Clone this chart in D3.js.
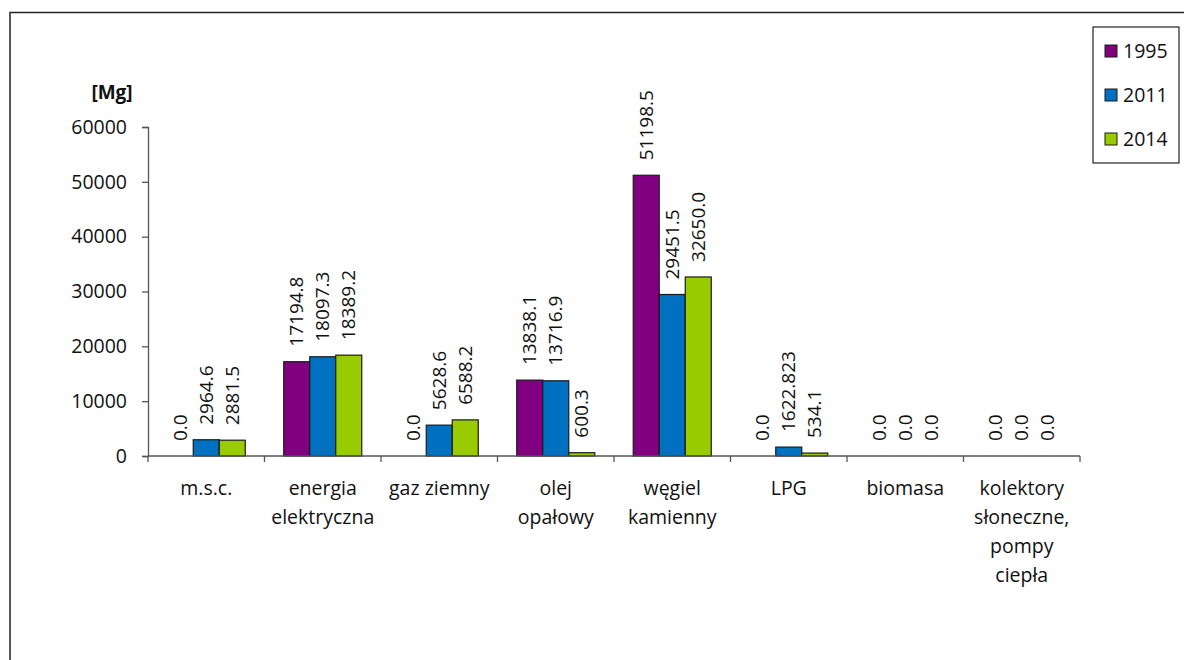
<!DOCTYPE html>
<html>
<head>
<meta charset="utf-8">
<script src="https://cdn.jsdelivr.net/npm/d3@7"></script>
<style>
  html, body { margin: 0; padding: 0; background: #fff; }
  svg { display: block; font-family: "Open Sans", sans-serif; }
</style>
</head>
<body>
<svg id="chart" width="1184" height="660"></svg>
<script>
// Fuel consumption by energy source, three survey years
const categories = [
  "m.s.c.",
  "energia\nelektryczna",
  "gaz ziemny",
  "olej\nopałowy",
  "węgiel\nkamienny",
  "LPG",
  "biomasa",
  "kolektory\nsłoneczne,\npompy\nciepła"
];
const seriesNames = ["1995", "2011", "2014"];
const values1995 = [0, 17194.8, 0, 13838.1, 51198.5, 0, 0, 0];
const values2011 = [2964.6, 18097.3, 5628.6, 13716.9, 29451.5, 1622.823, 0, 0];
const values2014 = [2881.5, 18389.2, 6588.2, 600.3, 32650.0, 534.1, 0, 0];
const yTicks = [0, 10000, 20000, 30000, 40000, 50000, 60000];
const unitLabel = "[Mg]";

const colors = { "1995": "#800080", "2011": "#0070C0", "2014": "#99CC00" };
const seriesValues = { "1995": values1995, "2011": values2011, "2014": values2014 };
const textColor = "#111";

const svg = d3.select("#chart");

// outer frame
svg.append("rect")
  .attr("x", 10).attr("y", 12.5)
  .attr("width", 1200).attr("height", 700)
  .attr("fill", "none").attr("stroke", "#222").attr("stroke-width", 1.5);

const plot = { left: 148, right: 1080, top: 127, bottom: 456 };

const x = d3.scaleBand()
  .domain(categories)
  .range([plot.left, plot.right])
  .paddingInner(0).paddingOuter(0);

const xs = d3.scaleBand()
  .domain(seriesNames)
  .range([0, x.bandwidth()])
  .paddingInner(0).paddingOuter(0.74);

const y = d3.scaleLinear()
  .domain([0, 60000])
  .range([plot.bottom, plot.top]);

// y axis
const yAxis = svg.append("g")
  .attr("transform", `translate(${plot.left},0)`)
  .call(d3.axisLeft(y).tickValues(yTicks).tickFormat(d3.format("d")).tickSize(6).tickPadding(15));
yAxis.select(".domain").attr("stroke", "#555").attr("stroke-width", 1.3);
yAxis.selectAll(".tick line").attr("stroke", "#555").attr("stroke-width", 1.3);
yAxis.selectAll(".tick text")
  .attr("font-size", 19.5).attr("fill", textColor)
  .attr("font-family", "'Open Sans', sans-serif");

svg.append("text")
  .attr("x", 112).attr("y", 99)
  .attr("text-anchor", "middle")
  .attr("font-size", 19).attr("font-weight", "bold").attr("fill", textColor)
  .text(unitLabel);

// bars
const rows = categories.map((c, i) => ({
  cat: c,
  items: seriesNames.map(s => ({ series: s, value: seriesValues[s][i] }))
}));

const fmt = v => {
  const s = String(v);
  return s.includes(".") ? s : v.toFixed(1);
};

const groups = svg.append("g").selectAll("g")
  .data(rows).join("g")
  .attr("transform", d => `translate(${x(d.cat)},0)`);

groups.selectAll("rect")
  .data(d => d.items.filter(it => it.value > 0))
  .join("rect")
  .attr("x", d => xs(d.series))
  .attr("y", d => y(d.value))
  .attr("width", xs.bandwidth())
  .attr("height", d => y(0) - y(d.value))
  .attr("fill", d => colors[d.series])
  .attr("stroke", "#1a1a1a").attr("stroke-width", 1.2);

groups.selectAll("text.val")
  .data(d => d.items)
  .join("text")
  .attr("class", "val")
  .attr("transform", d => `translate(${xs(d.series) + xs.bandwidth() / 2},${y(d.value) - 15}) rotate(-90)`)
  .attr("dy", "0.35em")
  .attr("font-size", 19).attr("fill", textColor)
  .text(d => fmt(d.value));

// x axis line and category dividers
svg.append("line")
  .attr("x1", plot.left).attr("x2", plot.right)
  .attr("y1", plot.bottom).attr("y2", plot.bottom)
  .attr("stroke", "#555").attr("stroke-width", 1.3);

const boundaries = categories.map(c => x(c)).concat([plot.right]);
svg.append("g").selectAll("line")
  .data(boundaries).join("line")
  .attr("x1", d => d).attr("x2", d => d)
  .attr("y1", plot.bottom).attr("y2", plot.bottom + 6)
  .attr("stroke", "#555").attr("stroke-width", 1.3);

const catLabels = svg.append("g").selectAll("text")
  .data(categories).join("text")
  .attr("x", d => x(d) + x.bandwidth() / 2)
  .attr("y", 495)
  .attr("text-anchor", "middle")
  .attr("font-size", 19.5).attr("fill", textColor);
catLabels.selectAll("tspan")
  .data(d => d.split("\n").map(line => ({ line, cx: x(d) + x.bandwidth() / 2 })))
  .join("tspan")
  .attr("x", d => d.cx)
  .attr("dy", (d, i) => i === 0 ? 0 : 29)
  .text(d => d.line);

// legend
const legend = svg.append("g");
legend.append("rect")
  .attr("x", 1093).attr("y", 27)
  .attr("width", 86).attr("height", 136)
  .attr("fill", "#fff").attr("stroke", "#222").attr("stroke-width", 1.2);

const legendItems = legend.selectAll("g.item")
  .data(seriesNames).join("g")
  .attr("class", "item")
  .attr("transform", (d, i) => `translate(1105,${51 + i * 44})`);
legendItems.append("rect")
  .attr("x", 0).attr("y", -6)
  .attr("width", 12).attr("height", 12)
  .attr("fill", d => colors[d])
  .attr("stroke", "#1a1a1a").attr("stroke-width", 1);
legendItems.append("text")
  .attr("x", 18).attr("y", 0).attr("dy", "0.35em")
  .attr("font-size", 19.5).attr("fill", textColor)
  .text(d => d);
</script>
</body>
</html>
